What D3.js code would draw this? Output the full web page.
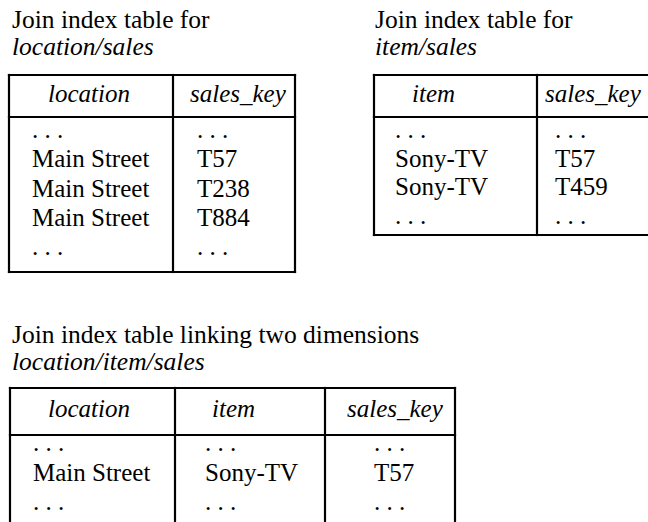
<!DOCTYPE html>
<html><head><meta charset="utf-8">
<script src="https://cdn.jsdelivr.net/npm/d3@7"></script>
<style>body{margin:0;background:#fff}svg{display:block} svg text{font-family:"Liberation Serif","Times New Roman","DejaVu Serif",serif;}</style>
</head><body>
<script>
// ---- data ----
const t1Title = ["Join index table for", "location/sales"];
const t1Header = ["location", "sales_key"];
const t1Location = ["...", "Main Street", "Main Street", "Main Street", "..."];
const t1SalesKey = ["...", "T57", "T238", "T884", "..."];

const t2Title = ["Join index table for", "item/sales"];
const t2Header = ["item", "sales_key"];
const t2Item = ["...", "Sony-TV", "Sony-TV", "..."];
const t2SalesKey = ["...", "T57", "T459", "..."];

const t3Title = ["Join index table linking two dimensions", "location/item/sales"];
const t3Header = ["location", "item", "sales_key"];
const t3Location = ["...", "Main Street", "..."];
const t3Item = ["...", "Sony-TV", "..."];
const t3SalesKey = ["...", "T57", "..."];

// ---- drawing ----
const W = 648, H = 522;
const svg = d3.select("body").append("svg").attr("width", W).attr("height", H);
const FS = 25;
const FS_TITLE = 25.5;

function dots(s){ return s === "..." ? ". . ." : s; }

function drawTable(cfg){
  const g = svg.append("g");
  g.selectAll("text.title").data(cfg.title).join("text")
    .attr("class", "title")
    .attr("x", cfg.titleX)
    .attr("y", (d,i) => cfg.titleY + i*cfg.titleGap)
    .attr("font-size", FS_TITLE)
    .attr("font-style", (d,i) => i === 1 ? "italic" : "normal")
    .text(d => d);

  const colEdges = cfg.colEdges;
  const y = d3.scaleLinear().domain([0, cfg.columns[0].length - 1]).range([cfg.firstRowY, cfg.lastRowY]);

  const lines = [];
  const xr = colEdges[colEdges.length-1];
  lines.push([colEdges[0], cfg.top, xr, cfg.top]);
  lines.push([colEdges[0], cfg.sep, xr, cfg.sep]);
  if (cfg.bottom != null) lines.push([colEdges[0], cfg.bottom, xr, cfg.bottom]);
  colEdges.forEach(cx => lines.push([cx, cfg.top, cx, cfg.bottom != null ? cfg.bottom : H+5]));
  g.selectAll("line").data(lines).join("line")
    .attr("x1", d=>d[0]).attr("y1", d=>d[1]).attr("x2", d=>d[2]).attr("y2", d=>d[3])
    .attr("stroke", "#000").attr("stroke-width", 2.2).attr("stroke-linecap", "square");

  g.selectAll("text.hdr").data(cfg.header).join("text")
    .attr("class", "hdr")
    .attr("x", (d,i) => cfg.headerX[i]).attr("y", cfg.headerY)
    .attr("font-size", FS).attr("font-style", "italic")
    .text(d => d);

  cfg.columns.forEach((col, ci) => {
    g.selectAll("text.c"+ci).data(col).join("text")
      .attr("class", "c"+ci)
      .attr("x", cfg.cellX[ci]).attr("y", (d,i) => y(i))
      .attr("font-size", FS)
      .text(d => dots(d));
  });
}

drawTable({
  title: t1Title, titleX: 12, titleY: 28, titleGap: 27,
  header: t1Header, columns: [t1Location, t1SalesKey],
  colEdges: [9, 173, 295],
  top: 75, sep: 117, bottom: 272,
  headerY: 102, headerX: [48, 190],
  firstRowY: 138, lastRowY: 255, cellX: [32, 197]
});

drawTable({
  title: t2Title, titleX: 375, titleY: 28, titleGap: 27,
  header: t2Header, columns: [t2Item, t2SalesKey],
  colEdges: [374, 537, 662],
  top: 75, sep: 117, bottom: 235,
  headerY: 102, headerX: [412, 545],
  firstRowY: 138, lastRowY: 224, cellX: [395, 555]
});

drawTable({
  title: t3Title, titleX: 12, titleY: 343, titleGap: 27,
  header: t3Header, columns: [t3Location, t3Item, t3SalesKey],
  colEdges: [10, 175, 325, 455],
  top: 388, sep: 435, bottom: null,
  headerY: 417, headerX: [48, 212, 347],
  firstRowY: 451, lastRowY: 510, cellX: [33, 205, 374]
});
</script>
</body></html>
